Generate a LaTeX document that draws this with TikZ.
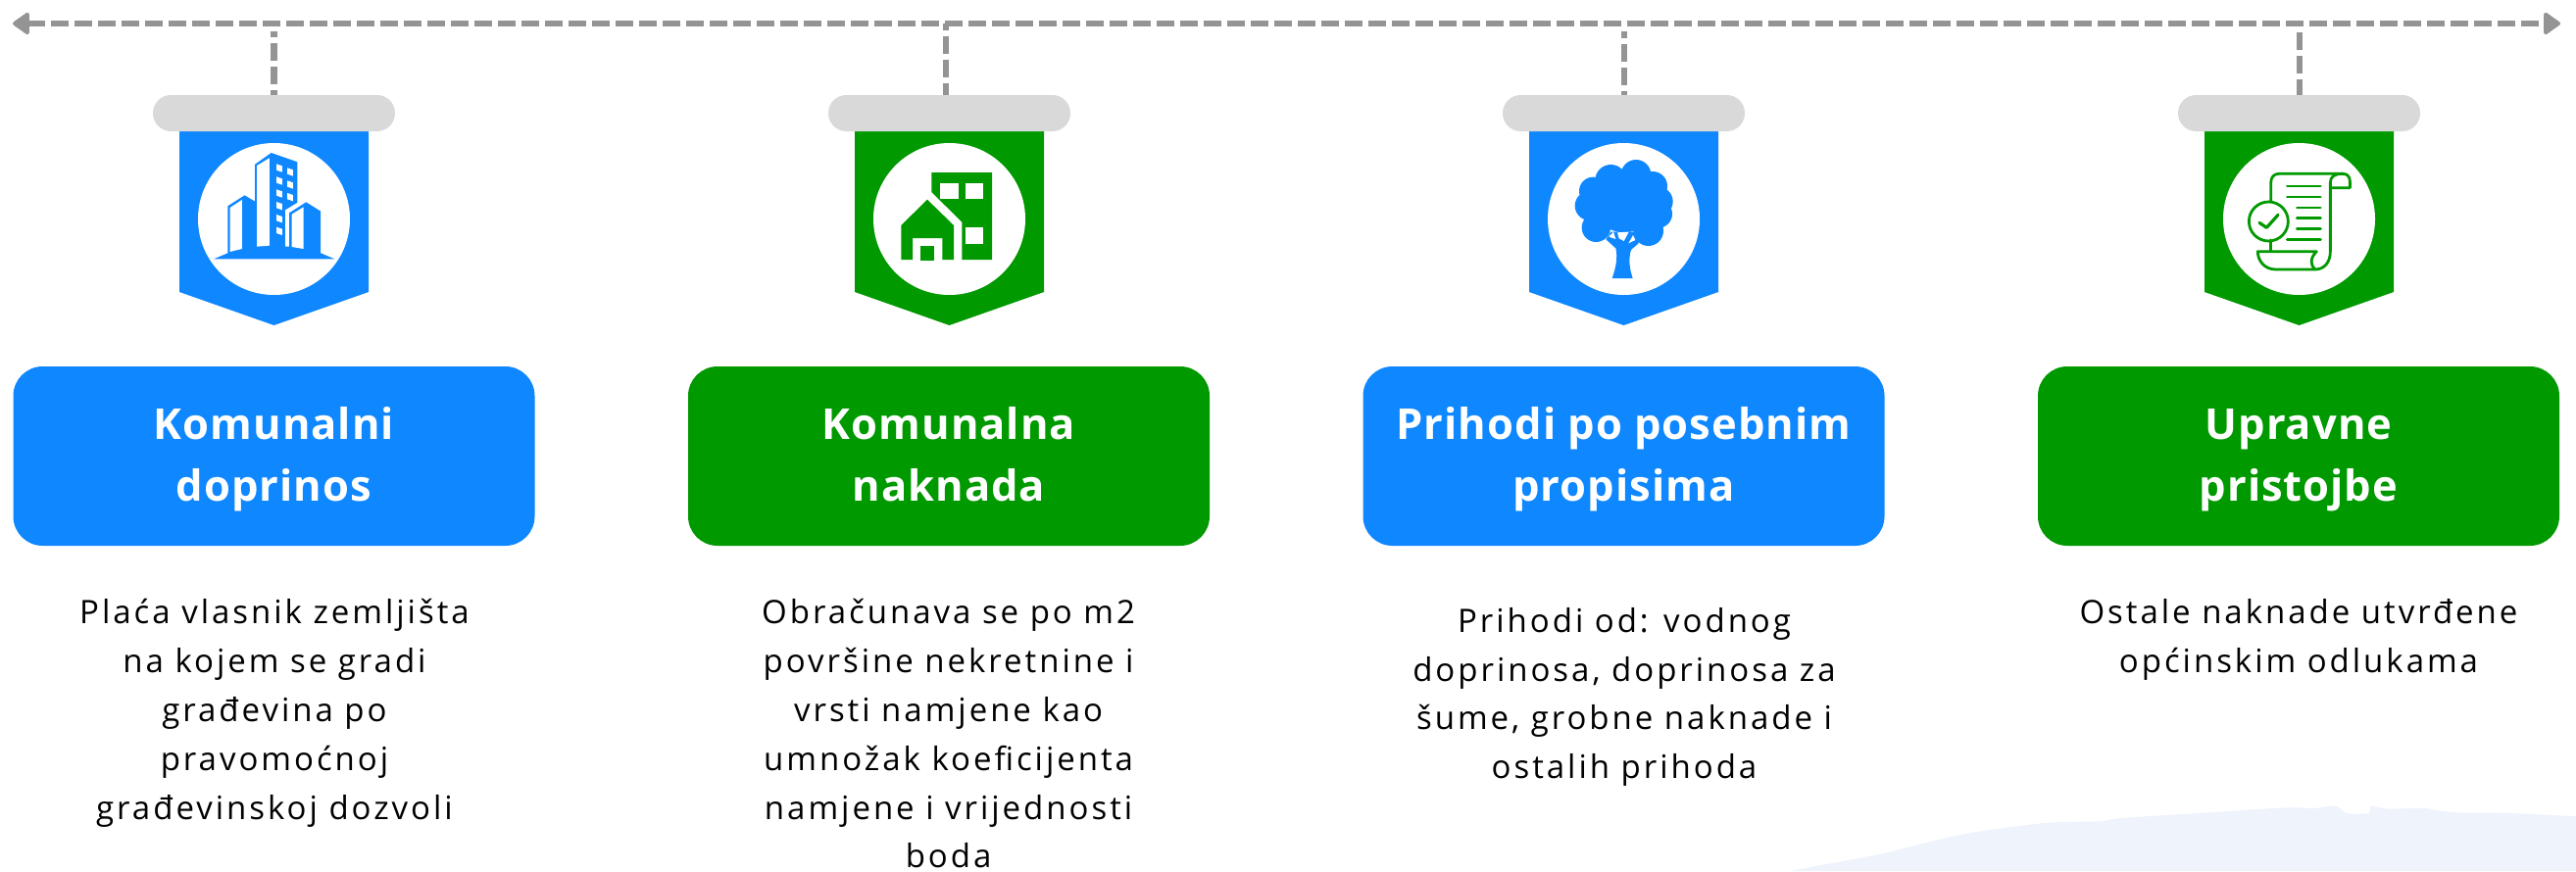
\documentclass[tikz,border=0pt]{standalone}
\usepackage{fontspec}
\usetikzlibrary{arrows.meta}
\setmainfont{Open Sans}
\newfontfamily\bodyfont[LetterSpace=9]{Open Sans}
\newfontfamily\titlefont[LetterSpace=2.3]{Open Sans}
\definecolor{myblue}{HTML}{0F87FF}
\definecolor{mygreen}{HTML}{009900}
\definecolor{pillgray}{HTML}{D9D9D9}
\definecolor{dashgray}{HTML}{949494}
\definecolor{blobcol}{HTML}{EEF3FC}
\tikzset{
  pill/.style={fill=pillgray,draw=none,minimum width=247pt,minimum height=37pt,rounded corners=18.4pt,inner sep=0pt},
  medal/.style={circle,fill=white,draw=none,minimum size=155pt,inner sep=0pt},
  card/.style={draw=none,minimum width=532pt,minimum height=183pt,rounded corners=30pt,inner sep=0pt,align=center,text=white,font=\titlefont\bfseries\fontsize{43.5}{62.5}\selectfont},
  bodytext/.style={anchor=north,inner sep=0pt,align=center,text=black,font=\bodyfont\fontsize{33}{49.8}\selectfont},
  axisline/.style={draw=dashgray,line width=6.3pt,dash pattern=on 18pt off 6pt,dash phase=1pt},
  branchline/.style={draw=dashgray,line width=6.3pt},
  axishead/.tip={Triangle[round,length=18.5pt,width=25pt,line width=4pt]},
}
\newcommand{\bannerat}[3]{%
  \fill[#2] (#1-96.5,130) -- (#1+96.5,130) -- (#1+96.5,298) -- (#1,332) -- (#1-96.5,298) -- cycle;
  \node[pill] (pill#3) at (#1,115.5) {};
  \node[medal] (medal#3) at (#1,223.5) {};
}
\begin{document}
\begin{tikzpicture}[x=1pt,y=-1pt]
\useasboundingbox (0,0) rectangle (2628,889);
\fill[white] (0,0) rectangle (2628,889);
% background blob
\begin{scope}[shift={(1750,780)},x=0.5599pt,y=-0.33333pt]
\fill[blobcol] plot[smooth,tension=0.5] coordinates {(135,327) (300,275) (450,215) (600,180) (700,175) (740,165) (900,148) (1040,133) (1090,135) (1130,128) (1150,150) (1190,150) (1195,128) (1225,137) (1290,135) (1350,148) (1450,150) (1568,160)} -- (1568,327) -- cycle;
\end{scope}
% axis
\coordinate (axisL) at (13,24);
\coordinate (axisR) at (2612,24);
\draw[axisline,axishead-axishead] (axisL) -- (axisR);
% banners
\bannerat{279.5}{myblue}{A}
\bannerat{968.5}{mygreen}{B}
\bannerat{1656.5}{myblue}{C}
\bannerat{2345.5}{mygreen}{D}
% branches
\coordinate (topA) at (279.5,32);
\coordinate (botA) at (279.5,97);
\coordinate (topB) at (965,24);
\coordinate (botB) at (965,97);
\coordinate (topC) at (1657,32);
\coordinate (botC) at (1657,97);
\coordinate (topD) at (2345.7,24);
\coordinate (botD) at (2345.7,97);
\draw[branchline,dash pattern=on 18pt off 6pt,dash phase=12pt] (topA) -- (botA);
\draw[branchline,dash pattern=on 18pt off 6pt,dash phase=11.3pt] (topB) -- (botB);
\draw[branchline,dash pattern=on 18pt off 6pt,dash phase=11.3pt] (topC) -- (botC);
\draw[branchline,dash pattern=on 18pt off 6pt,dash phase=15pt] (topD) -- (botD);
% icon 1 buildings
\begin{scope}[x=0.38270pt,y=-0.33333pt]
\fill[myblue] (570,793) -- (607,775) -- (607,631) -- (652,598) -- (680,617) -- (680,503) -- (723,468) -- (793,496) -- (793,620) -- (760,643) -- (760,755) -- (771,755) -- (771,652) -- (816,619) -- (855,647) -- (855,775) -- (892,793) -- cycle;
\fill[white] (613,636) -- (645,612) -- (645,762) -- (613,771) -- cycle;
\fill[white] (685,507) -- (718,484) -- (718,752) -- (685,755) -- cycle;
\fill[white] (778,656) -- (809,634) -- (809,762) -- (778,756) -- cycle;
\foreach \wy in {502,541,580,618,657,695}
  \fill[white] (737,\wy) -- (752,\wy+6) -- (752,\wy+25) -- (737,\wy+19) -- cycle;
\foreach \wy in {514,553,591}
  \fill[white] (766,\wy) -- (781,\wy+6) -- (781,\wy+25) -- (766,\wy+19) -- cycle;
\end{scope}
% icon 2 house
\begin{scope}[shift={(800,60)},x=0.33333pt,y=-0.33333pt]
\fill[mygreen] (451,348) -- (636,348) -- (636,615) -- (544,615) -- (544,500) -- (451,408) -- cycle;
\fill[white] (477,380) rectangle (533,430);
\fill[white] (554,380) rectangle (610,430);
\fill[white] (554,517) rectangle (610,566);
\fill[mygreen] (358,510) -- (438,431) -- (519,510) -- (519,615) -- (484,615) -- (484,549) -- (393,549) -- (393,615) -- (358,615) -- cycle;
\fill[mygreen] (417,573) rectangle (459,617);
\end{scope}
% icon 3 tree
\begin{scope}[shift={(1500,60)},x=0.33333pt,y=-0.33333pt]
\fill[myblue] (470,440) circle[radius=92];
\foreach \cx/\cy/\cr in {430/372/48,507/355/46,558/390/45,575/437/45,575/475/43,545/527/46,385/517/44,365/450/45,376/405/43}
  \fill[myblue] (\cx,\cy) circle[radius=\cr];
\fill[myblue] (415,553) -- (445,580) .. controls (452,610) and (445,640) .. (434,672) -- (497,672) .. controls (486,640) and (484,610) .. (492,585) -- (515,565) -- (510,530) -- (430,530) -- cycle;
\fill[white] (424,545) -- (438,530) -- (445,552) -- cycle;
\fill[white] (450,532) -- (485,530) -- (470,558) -- (455,550) -- cycle;
\fill[white] (484,565) -- (498,540) -- (505,555) -- cycle;
\end{scope}
% icon 4 scroll
\begin{scope}[shift={(2180,0)},x=0.33333pt,y=-0.33333pt,line width=2.8pt,line cap=round,line join=round]
\draw[mygreen] (410,615) -- (410,560) .. controls (410,542) and (420,532) .. (435,532) -- (630,532) .. controls (645,532) and (652,542) .. (652,555) -- (652,575) -- (592,575);
\draw[mygreen] (630,532) .. controls (605,532) and (592,540) .. (592,560) -- (592,770) .. controls (592,805) and (572,825) .. (545,825) -- (425,825) .. controls (392,825) and (370,800) .. (370,770) -- (550,770) .. controls (530,790) and (530,810) .. (545,825);
\draw[mygreen] (410,735) -- (410,770);
\draw[mygreen] (403,678) circle[radius=60];
\draw[mygreen,line width=3.2pt] (375,682) -- (397,697) -- (432,658);
\foreach \ly/\lx in {570/460,603/460,636/490,668/490,701/490,734/460}
  \draw[mygreen] (\lx,\ly) -- (562,\ly);
\end{scope}
% cards
\node[card,fill=myblue] (cardA) at (279.5,465.5) {\rule{0pt}{40pt}Komunalni\\doprinos\rule[-11.5pt]{0pt}{11.5pt}};
\node[card,fill=mygreen] (cardB) at (968,465.5) {\rule{0pt}{40pt}Komunalna\\naknada\rule[-11.5pt]{0pt}{11.5pt}};
\node[card,fill=myblue] (cardC) at (1656.5,465.5) {\rule{0pt}{40pt}Prihodi po posebnim\\propisima\rule[-11.5pt]{0pt}{11.5pt}};
\node[card,fill=mygreen] (cardD) at (2345,465.5) {\rule{0pt}{40pt}Upravne\\pristojbe\rule[-11.5pt]{0pt}{11.5pt}};
% body
\node[bodytext] (textA) at (280,606.6) {\rule{0pt}{30pt}Plaća vlasnik zemljišta\\na kojem se gradi\\građevina po\\pravomoćnoj\\građevinskoj dozvoli};
\node[bodytext] (textB) at (967.6,606.6) {\rule{0pt}{30pt}Obračunava se po m2\\površine nekretnine i\\vrsti namjene kao\\umnožak koeficijenta\\namjene i vrijednosti\\boda};
\node[bodytext] (textC) at (1657,615) {\rule{0pt}{30pt}Prihodi od: vodnog\\doprinosa, doprinosa za\\šume, grobne naknade i\\ostalih prihoda};
\node[bodytext] (textD) at (2345,606.7) {\rule{0pt}{30pt}Ostale naknade utvrđene\\općinskim odlukama};
\end{tikzpicture}
\end{document}
